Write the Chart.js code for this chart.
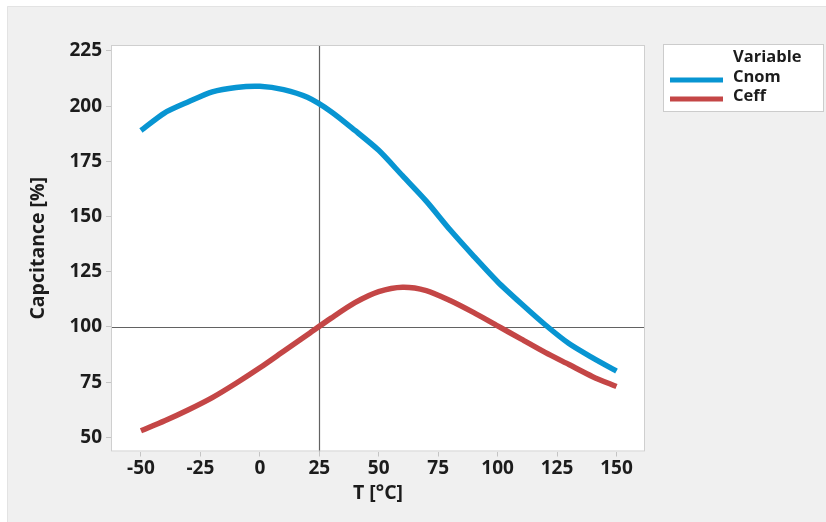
<!DOCTYPE html>
<html>
<head>
<meta charset="utf-8">
<script src="https://cdn.jsdelivr.net/npm/chart.js@4"></script>
<style>
  html, body { margin: 0; padding: 0; background: #ffffff; }
  canvas { display: block; }
</style>
</head>
<body>
<canvas id="c" width="826" height="522"></canvas>
<script>
// Temperature sweep (°C)
const temps = [-50, -40, -30, -20, -10, 0, 10, 20, 30, 40, 50, 60, 70, 80, 90, 100, 110, 120, 130, 140, 150];
// Nominal capacitance, % of 25 °C value
const cnom = [189, 197, 202, 206.5, 208.5, 209, 207.5, 204, 197.5, 189, 180, 168.5, 157, 144, 132, 120.5, 110.5, 101, 92.5, 86, 80];
// Effective capacitance, % of 25 °C value
const ceff = [53, 57.5, 62.5, 68, 74.5, 81.5, 89, 96.5, 104, 111, 116, 118, 116.5, 112, 106.5, 100.5, 94.5, 88.5, 83, 77.5, 73];

const xTicks = [-50, -25, 0, 25, 50, 75, 100, 125, 150];
const yTicks = [50, 75, 100, 125, 150, 175, 200, 225];

// Reference lines: room temperature and 100 %
const refT = 25;
const refC = 100;

const seriesNames = ['Cnom', 'Ceff'];
const seriesColors = ['#0895d2', '#c44646'];

const FONT = "'Open Sans', 'Noto Sans', sans-serif";
const TEXT = '#1c1c1c';

const toXY = (vals) => temps.map((t, i) => ({ x: t, y: vals[i] }));

const backdrop = {
  id: 'backdrop',
  beforeDraw(chart) {
    const ctx = chart.ctx;
    ctx.save();
    ctx.fillStyle = '#ffffff';
    ctx.fillRect(0, 0, chart.width, chart.height);
    ctx.fillStyle = '#f0f0f0';
    ctx.fillRect(7, 6, chart.width - 7, chart.height - 6);
    ctx.strokeStyle = '#e3e3e3';
    ctx.lineWidth = 1;
    ctx.beginPath();
    ctx.moveTo(7.5, chart.height);
    ctx.lineTo(7.5, 6.5);
    ctx.lineTo(chart.width, 6.5);
    ctx.stroke();
    const a = chart.chartArea;
    ctx.fillStyle = '#ffffff';
    ctx.fillRect(a.left, a.top, a.right - a.left, a.bottom - a.top);
    ctx.restore();
  }
};

const refLines = {
  id: 'refLines',
  beforeDatasetsDraw(chart) {
    const ctx = chart.ctx;
    const a = chart.chartArea;
    const x = Math.round(chart.scales.x.getPixelForValue(refT)) + 0.5;
    const y = Math.round(chart.scales.y.getPixelForValue(refC)) + 0.5;
    ctx.save();
    ctx.strokeStyle = '#626262';
    ctx.lineWidth = 1.2;
    ctx.beginPath();
    ctx.moveTo(x, a.top); ctx.lineTo(x, a.bottom);
    ctx.moveTo(a.left, y); ctx.lineTo(a.right, y);
    ctx.stroke();
    ctx.restore();
  },
  afterDraw(chart) {
    const ctx = chart.ctx;
    const a = chart.chartArea;
    ctx.save();
    ctx.strokeStyle = '#cfcfcf';
    ctx.lineWidth = 1;
    ctx.strokeRect(a.left + 0.5, a.top + 0.5, a.right - a.left - 1, a.bottom - a.top - 1);
    ctx.restore();
  }
};

const legendBox = {
  id: 'legendBox',
  afterDraw(chart) {
    const ctx = chart.ctx;
    const bx = 663.5, by = 44.5, bw = 160, bh = 67;
    ctx.save();
    ctx.fillStyle = '#ffffff';
    ctx.fillRect(bx, by, bw, bh);
    ctx.strokeStyle = '#cccccc';
    ctx.lineWidth = 1;
    ctx.strokeRect(bx, by, bw, bh);
    ctx.fillStyle = TEXT;
    ctx.textBaseline = 'middle';
    ctx.textAlign = 'left';
    ctx.font = `bold 16.5px ${FONT}`;
    ctx.fillText('Variable', 733, 57);
    chart.data.datasets.forEach((ds, i) => {
      const yy = 79 + i * 19;
      ctx.strokeStyle = ds.borderColor;
      ctx.lineWidth = 5;
      ctx.beginPath();
      ctx.moveTo(670, yy + 1);
      ctx.lineTo(723, yy + 1);
      ctx.stroke();
      ctx.fillStyle = TEXT;
      ctx.fillText(ds.label, 733, yy - 2);
    });
    ctx.restore();
  }
};

new Chart(document.getElementById('c'), {
  type: 'line',
  data: {
    datasets: [
      { label: seriesNames[0], data: toXY(cnom), borderColor: seriesColors[0] },
      { label: seriesNames[1], data: toXY(ceff), borderColor: seriesColors[1] }
    ]
  },
  options: {
    responsive: false,
    animation: false,
    devicePixelRatio: 1,
    layout: { padding: { top: 45, right: 181, left: 0, bottom: 0 } },
    elements: {
      line: { borderWidth: 5.5, tension: 0.25, fill: false, borderCapStyle: 'butt' },
      point: { radius: 0, hoverRadius: 0 }
    },
    plugins: { legend: { display: false }, tooltip: { enabled: false } },
    scales: {
      x: {
        type: 'linear',
        min: -62.6,
        max: 162,
        afterBuildTicks: (s) => { s.ticks = xTicks.map(v => ({ value: v })); },
        afterFit: (s) => { s.height = 70.5; },
        grid: { display: true, drawOnChartArea: false, drawTicks: true, tickLength: 5, color: '#c4c4c4' },
        border: { display: false },
        ticks: { color: TEXT, font: { family: FONT, size: 19, weight: 'bold' }, padding: 1, maxRotation: 0, autoSkip: false },
        title: { display: true, text: 'T [°C]', color: TEXT, font: { family: FONT, size: 19.5, weight: 'bold' }, padding: { bottom: 17, top: 0 } }
      },
      y: {
        type: 'linear',
        min: 43.6,
        max: 227.7,
        afterBuildTicks: (s) => { s.ticks = yTicks.map(v => ({ value: v })); },
        afterFit: (s) => { s.width = 111; },
        grid: { display: true, drawOnChartArea: false, drawTicks: true, tickLength: 5, color: '#c4c4c4' },
        border: { display: false },
        ticks: { color: TEXT, font: { family: FONT, size: 19, weight: 'bold' }, padding: 4, autoSkip: false },
        title: { display: true, text: 'Capcitance [%]', color: TEXT, font: { family: FONT, size: 19.5, weight: 'bold' }, padding: { top: 27, bottom: 0 } }
      }
    }
  },
  plugins: [backdrop, refLines, legendBox]
});
</script>
</body>
</html>
